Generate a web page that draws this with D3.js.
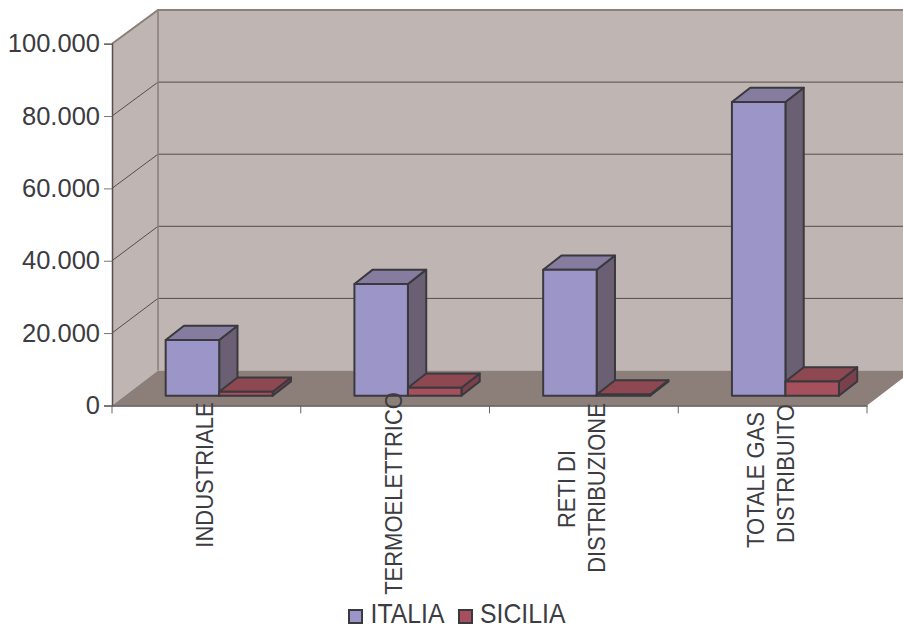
<!DOCTYPE html>
<html>
<head>
<meta charset="utf-8">
<script src="https://cdnjs.cloudflare.com/ajax/libs/d3/7.8.5/d3.min.js"></script>
<style>
  html, body { margin: 0; padding: 0; background: #fff; }
  svg { display: block; }
  text { font-family: "Liberation Sans", Arial, sans-serif; fill: #3c3c42; }
</style>
</head>
<body>
<svg id="chart" width="903" height="627"></svg>
<script>
var categories = ['INDUSTRIALE', 'TERMOELETTRICO', 'RETI DI DISTRIBUZIONE', 'TOTALE GAS DISTRIBUITO'];
var labelLines = [['INDUSTRIALE'], ['TERMOELETTRICO'], ['RETI DI', 'DISTRIBUZIONE'], ['TOTALE GAS', 'DISTRIBUITO']];
var seriesNames = ['ITALIA', 'SICILIA'];
var italia = [15400, 30900, 34800, 81200];
var sicilia = [1100, 2200, 300, 3900];
var yTicks = [0, 20000, 40000, 60000, 80000, 100000];
var tickLabels = ['0', '20.000', '40.000', '60.000', '80.000', '100.000'];

var left = 112, right = 867, bottom = 405.4, topY = 43.7, edge = 903;
var depthX = 46;                    // back wall offset from the front plane
var barDx = 12.8, barDy = -9.7;     // front face of bars sits a bit inside the floor
var sideDx = 18.3, sideDy = -14.3;  // depth of a single bar

var colors = {
  ITALIA: { front: '#9c95c8', top: '#857ca0', side: '#6b5f74' },
  SICILIA: { front: '#a6505e', top: '#8d4852', side: '#7a414d' }
};
var outline = '#3a393e';
var wallEdge = '#8c7f7a';

var svg = d3.select('#chart');

var x = d3.scaleBand().domain(categories).range([left, right]);
var xInner = d3.scaleBand().domain(seriesNames).range([x.bandwidth() / 2 - 53.5, x.bandwidth() / 2 + 53.5]);
var y = d3.scaleLinear().domain([0, 100000]).range([bottom, topY]);
var yBack = d3.scaleLinear().domain([0, 100000]).range([370.5, 10]);

function pts(list) {
  return list.map(function (p) { return p.join(','); }).join(' ');
}

// walls and floor
var backX = left + depthX;
svg.append('polygon')
  .attr('points', pts([[left, y(0)], [left, y(100000)], [backX, yBack(100000)], [edge, yBack(100000)], [edge, yBack(0)], [backX, yBack(0)]]))
  .attr('fill', '#bfb5b2');
var floorSlope = (y(0) - yBack(0)) / depthX;
svg.append('polygon')
  .attr('points', pts([[left, y(0)], [backX, yBack(0)], [edge, yBack(0)], [edge, y(0) - (edge - right) * floorSlope], [right, y(0)]]))
  .attr('fill', wallEdge);

// gridlines, running along the side wall and then the back wall
yTicks.slice(1, -1).forEach(function (t) {
  svg.append('polyline')
    .attr('points', pts([[left, y(t)], [backX, yBack(t)], [edge, yBack(t)]]))
    .attr('fill', 'none')
    .attr('stroke', '#574d4c')
    .attr('stroke-width', 1);
});

// wall edges
svg.append('polyline')
  .attr('points', pts([[left, y(100000)], [backX, yBack(100000)], [edge, yBack(100000)]]))
  .attr('fill', 'none').attr('stroke', wallEdge).attr('stroke-width', 2);
svg.append('line')
  .attr('x1', backX).attr('x2', backX)
  .attr('y1', yBack(100000)).attr('y2', yBack(0))
  .attr('stroke', wallEdge).attr('stroke-width', 1.5);

// axes
var yAxis = d3.axisLeft(y).tickValues(yTicks).tickSize(8).tickPadding(4)
  .tickFormat(function (d, i) { return tickLabels[i]; });
var yG = svg.append('g').attr('transform', 'translate(' + left + ',0)').call(yAxis);
yG.select('.domain').attr('stroke', '#55504f').attr('stroke-width', 1.5);
yG.selectAll('line').attr('stroke', '#777');
yG.selectAll('text').attr('font-size', 25.5).attr('dy', '0.32em').style('fill', '#3c3c42');

var xAxis = d3.axisBottom(x).tickSize(0).tickFormat('');
var xG = svg.append('g').attr('transform', 'translate(0,' + bottom + ')').call(xAxis);
xG.select('.domain').attr('stroke', '#55504f').attr('stroke-width', 1.5);
xG.selectAll('.edge').data(categories.concat(['end'])).enter().append('line')
  .attr('class', 'edge')
  .attr('x1', function (d, i) { return left + i * x.bandwidth(); })
  .attr('x2', function (d, i) { return left + i * x.bandwidth(); })
  .attr('y1', 0).attr('y2', 8).attr('stroke', '#666');

// bars
function drawBar(cat, name, value) {
  var c = colors[name];
  var x0 = x(cat) + xInner(name) + barDx;
  var x1 = x0 + xInner.bandwidth();
  var yBase = y(0) + barDy;
  var yTop = y(value) + barDy;
  var g = svg.append('g')
    .attr('stroke', outline).attr('stroke-width', 2).attr('stroke-linejoin', 'round');
  g.append('polygon').attr('fill', c.side)
    .attr('points', pts([[x1, yBase], [x1 + sideDx, yBase + sideDy], [x1 + sideDx, yTop + sideDy], [x1, yTop]]));
  g.append('polygon').attr('fill', c.top)
    .attr('points', pts([[x0, yTop], [x1, yTop], [x1 + sideDx, yTop + sideDy], [x0 + sideDx, yTop + sideDy]]));
  g.append('rect').attr('fill', c.front)
    .attr('x', x0).attr('y', yTop)
    .attr('width', x1 - x0).attr('height', yBase - yTop);
}
categories.forEach(function (cat, i) {
  drawBar(cat, 'ITALIA', italia[i]);
  drawBar(cat, 'SICILIA', sicilia[i]);
});

// category labels, rotated. the glyphs are a bit stretched across in the original
var labelMid = [[475], [493.5], [489, 488], [480, 473.5]];
categories.forEach(function (cat, i) {
  var lines = labelLines[i];
  var cx = x(cat) + x.bandwidth() / 2 + 6.5;
  lines.forEach(function (line, j) {
    var lx = cx + (j - (lines.length - 1) / 2) * 30;
    svg.append('text')
      .attr('transform', 'translate(' + lx + ',' + labelMid[i][j] + ') rotate(-90) scale(1,1.08)')
      .attr('text-anchor', 'middle')
      .attr('font-size', 22)
      .text(line);
  });
});

// legend
var legendX = [349, 459];
var legendTextX = [370.5, 480];
seriesNames.forEach(function (name, i) {
  svg.append('rect')
    .attr('x', legendX[i]).attr('y', 610)
    .attr('width', 13).attr('height', 13)
    .attr('fill', colors[name].front)
    .attr('stroke', outline).attr('stroke-width', 2);
  svg.append('text')
    .attr('transform', 'translate(' + legendTextX[i] + ',623) scale(1,1.08)')
    .attr('font-size', 24.8)
    .text(name);
});
</script>
</body>
</html>
